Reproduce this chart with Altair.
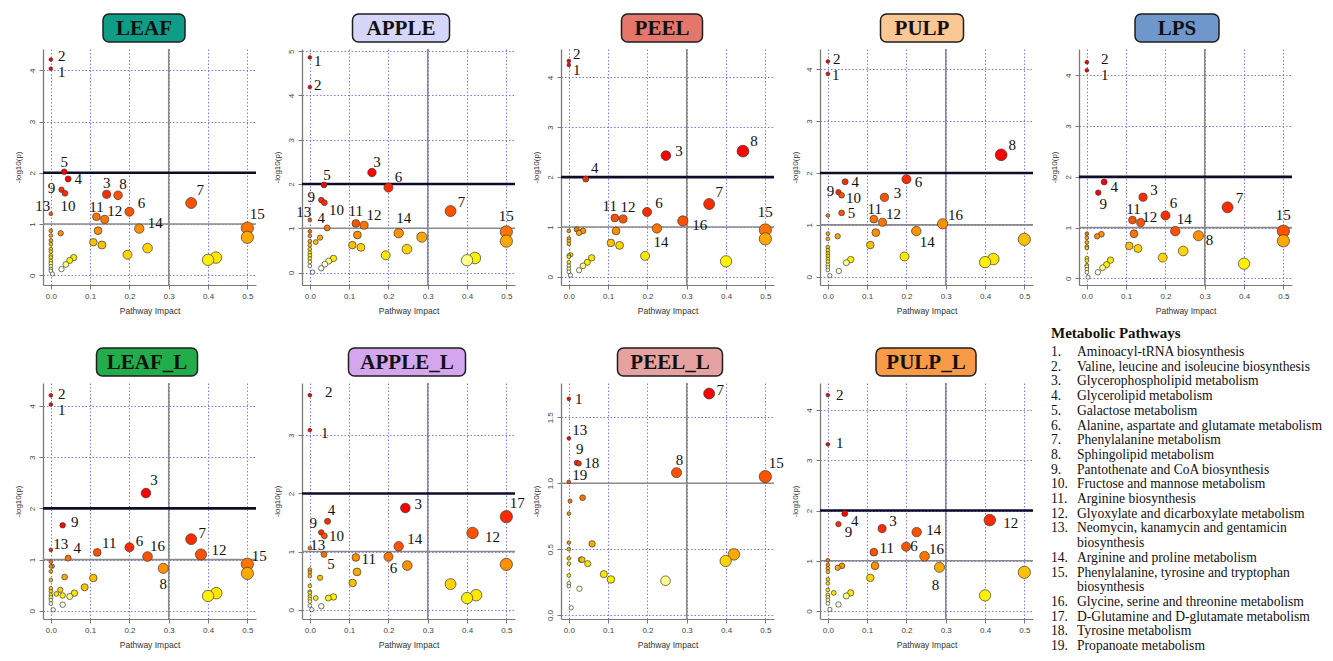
import textwrap
import altair as alt
import pandas as pd

# ---------------- data ----------------
PANELS = ["LEAF", "APPLE", "PEEL", "PULP", "LPS", "LEAF_L", "APPLE_L", "PEEL_L", "PULP_L"]

LEAF_IMPACT = [0, 0, 0.034, 0.044, 0.027, 0.036, 0, 0.142, 0.171, 0.116, 0.137, 0.200, 0.225, 0.357, 0.5,
               0.5, 0.025, 0.12, 0.108, 0.13, 0.195, 0.246, 0.4, 0.42, 0.027, 0.038, 0.048, 0.058, 0.004,
               0, 0, 0, 0, 0, 0, 0, 0, 0, 0, 0, 0, 0]
LEAF_LOGP = [4.21, 4.03, 2.02, 1.88, 1.67, 1.60, 1.20, 1.58, 1.56, 1.14, 1.09, 1.24, 0.91, 1.41, 0.92,
             0.74, 0.82, 0.87, 0.645, 0.59, 0.40, 0.53, 0.30, 0.345, 0.12, 0.21, 0.29, 0.345, 0.026,
             0.87, 0.775, 0.68, 0.61, 0.51, 0.46, 0.385, 0.345, 0.28, 0.23, 0.175, 0.12, 0.085]
LEAF_LABEL = ["2", "1", "5", "4", "9", "10", "13", "3", "8", "11", "12", "6", "14", "7", "15"] + [""] * 27

APPLE_IMPACT = [0, 0, 0.036, 0.158, 0.2, 0.029, 0.037, 0, 0.044, 0.117, 0.138, 0.358, 0.226, 0.5,
                0.5, 0.121, 0.108, 0.13, 0.285, 0.247, 0.193, 0.4, 0.42, 0.026, 0.015, 0.029, 0.038, 0.048,
                0.06, 0.007, 0, 0, 0, 0, 0, 0, 0, 0, 0, 0]
APPLE_LOGP = [4.86, 4.19, 1.98, 2.26, 1.92, 1.64, 1.58, 1.19, 1.01, 1.11, 1.07, 1.39, 0.89, 0.92,
              0.71, 0.85, 0.62, 0.57, 0.80, 0.53, 0.39, 0.28, 0.33, 0.79, 0.69, 0.10, 0.19, 0.26,
              0.32, 0.01, 0.93, 0.83, 0.71, 0.62, 0.53, 0.45, 0.39, 0.32, 0.24, 0.15]
APPLE_LABEL = ["1", "2", "5", "3", "6", "9", "10", "13", "4", "11", "12", "7", "14", "15"] + [""] * 26

PEEL_IMPACT = [0, 0, 0.043, 0.247, 0.443, 0.357, 0.117, 0.138, 0.199, 0.29, 0.224, 0.5,
               0.5, 0.12, 0.107, 0.129, 0.194, 0.4, 0.02, 0.026, 0.036, 0.026, 0.036, 0.047, 0.058,
               0.004, 0.005, 0, 0, 0, 0, 0, 0, 0, 0, 0, 0]
PEEL_LOGP = [4.33, 4.25, 1.96, 2.43, 2.52, 1.46, 1.18, 1.16, 1.30, 1.12, 0.97, 0.94,
             0.76, 0.92, 0.68, 0.63, 0.42, 0.31, 0.95, 0.88, 0.92, 0.13, 0.22, 0.29, 0.38,
             0.03, 0.44, 0.92, 0.77, 0.72, 0.66, 0.43, 0.40, 0.29, 0.22, 0.16, 0.10]
PEEL_LABEL = ["2", "1", "4", "3", "8", "7", "11", "12", "6", "16", "14", "15"] + [""] * 25

PULP_IMPACT = [0, 0, 0.441, 0.2, 0.044, 0.027, 0.035, 0.144, 0.035, 0.117, 0.139, 0.292, 0.225,
               0, 0.122, 0.108, 0.195, 0.4, 0.421, 0.5, 0.025, 0.028, 0.047, 0.058, 0.005,
               0, 0, 0, 0, 0, 0, 0, 0, 0, 0, 0]
PULP_LOGP = [4.15, 3.91, 2.35, 1.88, 1.83, 1.63, 1.57, 1.53, 1.23, 1.11, 1.05, 1.02, 0.88,
             1.18, 0.85, 0.61, 0.39, 0.28, 0.34, 0.72, 0.78, 0.11, 0.27, 0.33, 0.02,
             0.83, 0.73, 0.57, 0.51, 0.45, 0.40, 0.34, 0.29, 0.23, 0.18, 0.13]
PULP_LABEL = ["2", "1", "8", "6", "4", "9", "10", "3", "5", "11", "12", "16", "14"] + [""] * 23

LPS_IMPACT = [0, 0, 0.044, 0.029, 0.143, 0.116, 0.137, 0.2, 0.225, 0.284, 0.358, 0.5,
              0.5, 0.12, 0.108, 0.13, 0.193, 0.245, 0.4, 0.026, 0.037, 0.028, 0.04, 0.05, 0.06, 0.003,
              0, 0, 0, 0, 0, 0, 0, 0, 0, 0, 0]
LPS_LOGP = [4.26, 4.10, 1.90, 1.69, 1.60, 1.15, 1.10, 1.24, 0.93, 0.84, 1.40, 0.93,
            0.74, 0.88, 0.64, 0.59, 0.41, 0.54, 0.29, 0.83, 0.87, 0.12, 0.21, 0.27, 0.36, 0.025,
            0.88, 0.80, 0.71, 0.63, 0.60, 0.40, 0.35, 0.26, 0.23, 0.18, 0.12]
LPS_LABEL = ["2", "1", "4", "9", "3", "11", "12", "6", "14", "8", "7", "15"] + [""] * 25

LEAF_L_IMPACT = [0, 0, 0.242, 0.03, 0, 0.044, 0.118, 0.2, 0.246, 0.357, 0.382, 0.286, 0.5,
                 0.5, 0.035, 0.108, 0.086, 0.06, 0.048, 0.03, 0.014, 0.024, 0.03, 0.006, 0.4, 0.421, 0.004,
                 0, 0, 0, 0, 0, 0, 0, 0, 0, 0]
LEAF_L_LOGP = [4.21, 4.03, 2.30, 1.67, 1.19, 1.03, 1.14, 1.24, 1.06, 1.40, 1.10, 0.83, 0.91,
               0.73, 0.66, 0.64, 0.46, 0.345, 0.28, 0.30, 0.33, 0.41, 0.12, 0.02, 0.29, 0.345, 0.87,
               0.96, 0.87, 0.77, 0.60, 0.44, 0.38, 0.31, 0.26, 0.21, 0.14]
LEAF_L_LABEL = ["2", "1", "3", "9", "13", "4", "11", "6", "16", "7", "12", "8", "15"] + [""] * 24

APPLE_L_IMPACT = [0, 0, 0.243, 0.5, 0.045, 0.029, 0.037, 0.414, 0, 0.226, 0.036, 0.117, 0.2,
                  0.248, 0.12, 0.109, 0.5, 0.358, 0.4, 0.423, 0.026, 0.047, 0.06, 0.015, 0.029, 0.005,
                  0, 0, 0, 0, 0, 0, 0, 0, 0, 0]
APPLE_L_LOGP = [3.69, 3.09, 1.75, 1.60, 1.52, 1.33, 1.27, 1.32, 1.06, 1.09, 0.95, 0.90, 0.91,
                0.76, 0.65, 0.46, 0.78, 0.44, 0.20, 0.25, 0.55, 0.20, 0.22, 0.20, 0.06, 0.0,
                0.69, 0.64, 0.58, 0.41, 0.31, 0.29, 0.23, 0.18, 0.14, 0.07]
APPLE_L_LABEL = ["2", "1", "3", "17", "4", "9", "10", "12", "13", "14", "5", "11", "6"] + [""] * 23

PEEL_L_IMPACT = [0, 0.357, 0, 0.02, 0.025, 0.274, 0.5, 0,
                 0.003, 0.035, 0, 0.059, 0.42, 0.399, 0.031, 0.034, 0.048, 0.089, 0.107, 0.246, 0.027,
                 0.006, 0, 0, 0, 0, 0, 0, 0]
PEEL_L_LOGP = [1.64, 1.68, 1.34, 1.155, 1.15, 1.08, 1.05, 1.01,
               0.865, 0.89, 0.77, 0.54, 0.46, 0.41, 0.42, 0.42, 0.39, 0.31, 0.27, 0.26, 0.20,
               0.055, 0.55, 0.50, 0.43, 0.39, 0.30, 0.24, 0.22]
PEEL_L_LABEL = ["1", "7", "13", "9", "18", "8", "15", "19"] + [""] * 21

PULP_L_IMPACT = [0, 0, 0.412, 0.043, 0.027, 0.138, 0.226, 0.117, 0.199, 0.246, 0.284,
                 0.12, 0.108, 0.5, 0.4, 0.025, 0.036, 0.015, 0.047, 0.058, 0.027, 0.005,
                 0, 0, 0, 0, 0, 0, 0, 0, 0, 0, 0]
PULP_L_LOGP = [4.30, 3.32, 1.81, 1.94, 1.73, 1.64, 1.57, 1.17, 1.28, 1.09, 0.87,
               0.90, 0.66, 0.77, 0.31, 0.86, 0.90, 0.36, 0.30, 0.36, 0.13, 0.03,
               1.01, 0.92, 0.85, 0.78, 0.63, 0.55, 0.42, 0.32, 0.27, 0.22, 0.15]
PULP_L_LABEL = ["2", "1", "12", "4", "9", "3", "14", "11", "6", "16", "8"] + [""] * 22

IMPACT_TICKS = [0, 0.1, 0.2, 0.3, 0.4, 0.5]
IMPACT_CUTOFF = [0.3]
LOGP_CUTOFF_LOW = [1]
LOGP_CUTOFF_HIGH = [2]

Y_TICKS = {
    "LEAF": [0, 1, 2, 3, 4], "APPLE": [0, 1, 2, 3, 4, 5], "PEEL": [0, 1, 2, 3, 4],
    "PULP": [0, 1, 2, 3, 4], "LPS": [0, 1, 2, 3, 4], "LEAF_L": [0, 1, 2, 3, 4],
    "APPLE_L": [0, 1, 2, 3], "PEEL_L": [0, 0.5, 1.0, 1.5], "PULP_L": [0, 1, 2, 3, 4],
}

LEGEND_TITLE = "Metabolic Pathways"
PATHWAYS = [
    "Aminoacyl-tRNA biosynthesis",
    "Valine, leucine and isoleucine biosynthesis",
    "Glycerophospholipid metabolism",
    "Glycerolipid metabolism",
    "Galactose metabolism",
    "Alanine, aspartate and glutamate metabolism",
    "Phenylalanine metabolism",
    "Sphingolipid metabolism",
    "Pantothenate and CoA biosynthesis",
    "Fructose and mannose metabolism",
    "Arginine biosynthesis",
    "Glyoxylate and dicarboxylate metabolism",
    "Neomycin, kanamycin and gentamicin biosynthesis",
    "Arginine and proline metabolism",
    "Phenylalanine, tyrosine and tryptophan biosynthesis",
    "Glycine, serine and threonine metabolism",
    "D-Glutamine and D-glutamate metabolism",
    "Tyrosine metabolism",
    "Propanoate metabolism",
]

DATA = {
    "LEAF": (LEAF_IMPACT, LEAF_LOGP, LEAF_LABEL),
    "APPLE": (APPLE_IMPACT, APPLE_LOGP, APPLE_LABEL),
    "PEEL": (PEEL_IMPACT, PEEL_LOGP, PEEL_LABEL),
    "PULP": (PULP_IMPACT, PULP_LOGP, PULP_LABEL),
    "LPS": (LPS_IMPACT, LPS_LOGP, LPS_LABEL),
    "LEAF_L": (LEAF_L_IMPACT, LEAF_L_LOGP, LEAF_L_LABEL),
    "APPLE_L": (APPLE_L_IMPACT, APPLE_L_LOGP, APPLE_L_LABEL),
    "PEEL_L": (PEEL_L_IMPACT, PEEL_L_LOGP, PEEL_L_LABEL),
    "PULP_L": (PULP_L_IMPACT, PULP_L_LOGP, PULP_L_LABEL),
}

# ---------------- styling ----------------
W, H = 213, 236
X_DOMAIN = [-0.02, 0.522]
Y_DOMAIN = {
    "LEAF": [-0.19, 4.415], "APPLE": [-0.28, 5.05], "PEEL": [-0.165, 4.57],
    "PULP": [-0.16, 4.39], "LPS": [-0.13, 4.52], "LEAF_L": [-0.16, 4.45],
    "APPLE_L": [-0.16, 3.9], "PEEL_L": [-0.03, 1.76], "PULP_L": [-0.16, 4.54],
}
# (box fill, box width, box centre from plot left)
TITLE_STYLE = {
    "LEAF": ("#0F9D88", 82, 101), "APPLE": ("#D6D6FA", 97, 99), "PEEL": ("#E4766B", 81, 101),
    "PULP": ("#FBC794", 83, 102), "LPS": ("#7097CB", 84, 98), "LEAF_L": ("#21AE4A", 101, 104),
    "APPLE_L": ("#D3A6EE", 117, 105), "PEEL_L": ("#E6A1A1", 105, 109), "PULP_L": ("#F99B46", 100, 106),
}
LABEL_OFFSETS = {
    "LEAF": {"2": (11, -4), "1": (11, 3), "5": (0, -10), "4": (10, 0), "9": (-10, -2), "10": (3, 13),
             "13": (-8, -8), "3": (0, -11), "8": (5, -11), "11": (0, -10), "12": (10, -8), "6": (12, -9),
             "14": (16, -6), "7": (9, -13), "15": (10, -14)},
    "APPLE": {"1": (8, 4), "2": (8, -2), "5": (3, -10), "3": (5, -11), "6": (10, -11), "9": (-10, -3),
              "10": (12, 7), "13": (-6, -8), "4": (-6, -10), "11": (0, -12), "12": (10, -10),
              "14": (5, -15), "7": (11, -9), "15": (0, -16)},
    "PEEL": {"2": (8, -7), "1": (8, 5), "4": (9, -11), "3": (13, -5), "8": (11, -10), "7": (10, -12),
             "11": (-5, -12), "12": (5, -12), "6": (12, -9), "16": (17, 4), "14": (4, 14), "15": (0, -18)},
    "PULP": {"2": (9, -2), "1": (8, 1), "8": (11, -10), "6": (12, 3), "4": (10, 0), "9": (-8, -1),
             "10": (12, 3), "3": (13, -4), "5": (10, 0), "11": (1, -10), "12": (11, -8), "16": (13, -9),
             "14": (11, 11)},
    "LPS": {"2": (18, -3), "1": (18, 5), "4": (10, 5), "9": (5, 11), "3": (11, -7), "11": (1, -11),
            "12": (9, -6), "6": (8, -12), "14": (9, -12), "8": (11, 4), "7": (12, -9), "15": (0, -16)},
    "LEAF_L": {"2": (11, -1), "1": (11, 5), "3": (8, -13), "9": (12, -3), "13": (10, -6), "4": (9, -10),
               "11": (12, -9), "6": (10, -6), "16": (10, -11), "7": (11, -6), "12": (18, -4),
               "8": (0, 16), "15": (12, -8)},
    "APPLE_L": {"2": (19, -3), "1": (15, 3), "3": (13, -4), "17": (11, -14), "4": (4, -11), "9": (-8, -9),
                "10": (12, 0), "12": (20, 4), "13": (8, -3), "14": (16, -7), "5": (7, 10), "11": (13, 2),
                "6": (5, 11)},
    "PEEL_L": {"1": (10, 0), "7": (11, -4), "13": (11, -8), "9": (3, -14), "18": (13, 0), "8": (3, -13),
               "15": (11, -14), "19": (11, -7)},
    "PULP_L": {"2": (12, 0), "1": (12, -1), "12": (21, 3), "4": (10, 7), "9": (10, 8), "3": (11, -8),
               "14": (17, -2), "11": (13, -4), "6": (8, -1), "16": (12, -7), "8": (-4, 18)},
}
HEAT = ["#FFFFE6", "#FFFF8C", "#FFF000", "#FFE600", "#FFD400", "#FFC000", "#FFA800",
        "#FF9000", "#FF7400", "#FF5200", "#FF2A00", "#FF0000"]
GRID_COLOR = "#6B6BFF"
AXIS_GRAY = "#7A7A7A"
SANS = "Liberation Sans"
SERIF = "Liberation Serif"


def panel(name):
    impact, logp, label = DATA[name]
    df = pd.DataFrame({"impact": impact, "logp": logp, "label": label})
    df = df.sort_values("logp", ascending=False, kind="stable")
    xs = alt.Scale(domain=X_DOMAIN, nice=False, zero=False)
    ys = alt.Scale(domain=Y_DOMAIN[name], nice=False, zero=False)
    yfmt = ".1f" if name == "PEEL_L" else "d"
    xax = alt.Axis(values=IMPACT_TICKS, format=".1f", title="Pathway Impact", grid=True,
                   gridColor=GRID_COLOR, gridDash=[1.5, 2], gridWidth=1, gridOpacity=0.9,
                   domainColor=AXIS_GRAY, tickColor=AXIS_GRAY, tickSize=4, labelFontSize=8,
                   labelColor="#444", labelPadding=3, labelFont=SANS, titleFont=SANS,
                   titleFontSize=8.5, titleFontWeight="normal", titleColor="#333", titlePadding=6)
    yax = alt.Axis(values=Y_TICKS[name], format=yfmt, title="-log10(p)", grid=True,
                   gridColor=GRID_COLOR, gridDash=[1.5, 2], gridWidth=1, gridOpacity=0.9,
                   domainColor=AXIS_GRAY, domainWidth=1.3, tickColor=AXIS_GRAY, tickSize=4,
                   labelFontSize=8, labelColor="#444", labelPadding=3, labelAngle=270,
                   labelAlign="center", labelBaseline="bottom", labelFont=SANS, titleFont=SANS,
                   titleFontSize=8, titleFontWeight="normal", titleColor="#333", titlePadding=6)

    ex = alt.X("impact:Q", scale=xs, axis=xax)
    ey = alt.Y("logp:Q", scale=ys, axis=yax)

    layers = []
    # threshold lines
    layers.append(alt.Chart(pd.DataFrame({"logp": LOGP_CUTOFF_LOW})).mark_rule(
        color="#8A8A8A", strokeWidth=1.6).encode(y=ey))
    layers.append(alt.Chart(pd.DataFrame({"impact": IMPACT_CUTOFF})).mark_rule(
        color="#8A8A8A", strokeWidth=1.6).encode(x=ex))
    if LOGP_CUTOFF_HIGH[0] < Y_DOMAIN[name][1]:
        layers.append(alt.Chart(pd.DataFrame({"logp": LOGP_CUTOFF_HIGH})).mark_rule(
            color="#0D0D2A", strokeWidth=2.6).encode(y=ey))
    # points
    layers.append(alt.Chart(df).mark_circle(opacity=1, stroke="#3A3A3A", strokeWidth=0.7).encode(
        x=ex, y=ey,
        size=alt.Size("impact:Q", scale=alt.Scale(type="pow", exponent=0.75, domain=[0, 0.5],
                                                  range=[14, 150]), legend=None),
        color=alt.Color("logp:Q", scale=alt.Scale(type="quantile", range=HEAT), legend=None),
    ))
    # labels
    ldf = df[df["label"] != ""].copy()
    offs = LABEL_OFFSETS[name]
    ldf["dx"] = [offs[l][0] for l in ldf["label"]]
    ldf["dy"] = [offs[l][1] for l in ldf["label"]]
    layers.append(alt.Chart(ldf).mark_text(
        font=SERIF, fontSize=15, color="#111111", align="center", baseline="middle",
        dx={"expr": "datum.dx"}, dy={"expr": "datum.dy"}).encode(x=ex, y=ey, text="label:N"))
    # title box
    fill, bw, cx = TITLE_STYLE[name]
    tdf = pd.DataFrame({"title": [name]})
    layers.append(alt.Chart(tdf).mark_rect(cornerRadius=6, fill=fill, stroke="#1E1E1E",
                                           strokeWidth=1.5).encode(
        x=alt.value(cx - bw / 2), x2=alt.value(cx + bw / 2), y=alt.value(-35), y2=alt.value(-7)))
    layers.append(alt.Chart(tdf).mark_text(font=SERIF, fontSize=21, fontWeight="bold",
                                           color="#111111").encode(
        x=alt.value(cx), y=alt.value(-20), text="title:N"))
    return alt.layer(*layers).properties(width=W, height=H)


def legend_panel():
    rows = []
    for i, name in enumerate(PATHWAYS, start=1):
        parts = textwrap.wrap(name, 44)
        for j, p in enumerate(parts):
            rows.append({"num": f"{i}." if j == 0 else "", "text": p})
    ldf = pd.DataFrame(rows)
    ldf["row"] = range(len(ldf))
    n = len(ldf) - 1
    yenc = alt.Y("row:Q", scale=alt.Scale(domain=[0, n], range=[-27, 267]), axis=None)
    nums = alt.Chart(ldf).mark_text(font=SERIF, fontSize=13.6, align="left", baseline="alphabetic",
                                    color="#111").encode(x=alt.value(-28), y=yenc, text="num:N")
    txt = alt.Chart(ldf).mark_text(font=SERIF, fontSize=13.6, align="left", baseline="alphabetic",
                                   color="#111").encode(x=alt.value(-2), y=yenc, text="text:N")
    head = alt.Chart(pd.DataFrame({"t": [LEGEND_TITLE]})).mark_text(
        font=SERIF, fontSize=15, fontWeight="bold", align="left", baseline="alphabetic",
        color="#111").encode(x=alt.value(-28), y=alt.value(-45), text="t:N")
    return alt.layer(nums, txt, head).properties(width=W, height=H)


charts = [panel(n) for n in PANELS] + [legend_panel()]
chart = alt.concat(*charts, columns=5, spacing={"row": 98, "column": 46}, bounds="flush").resolve_scale(
    x="independent", y="independent", color="independent", size="independent"
).configure_view(stroke=None).properties(
    padding={"left": 5, "top": 5, "right": 0, "bottom": 0}
)

chart.save("out.html", embed_options={"renderer": "svg", "actions": False})
